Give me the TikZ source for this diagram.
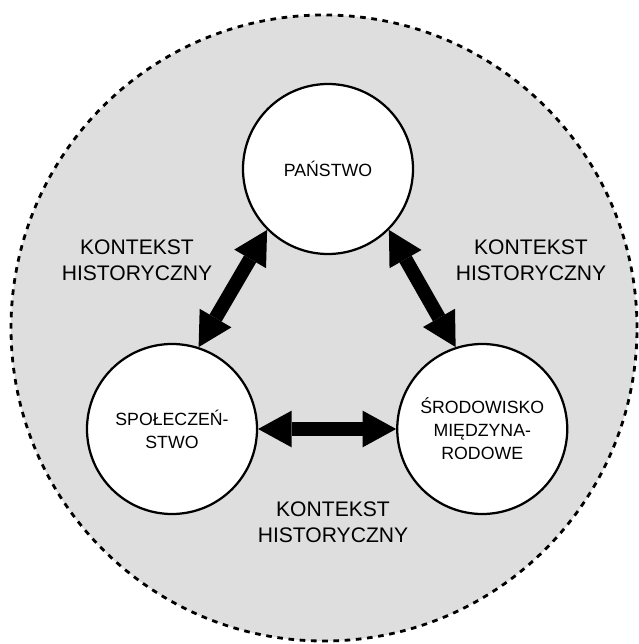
\documentclass[tikz,border=0pt]{standalone}
\usepackage{fontspec}
\setmainfont{Liberation Sans}
\usetikzlibrary{positioning,arrows.meta}
\tikzset{
 krag/.style
  = {circle, draw, fill=white, line width=1.6pt, minimum size=4.25cm, inner sep=0pt,
     align=center, font=\fontsize{12.6}{16.3}\selectfont},
 opis/.style
  = {align=center, font=\fontsize{15}{18.4}\selectfont},
 strz/.style
  = {draw, line width=0.35cm, {Triangle[width=0.92cm, length=0.84cm, line width=0pt]}-{Triangle[width=0.92cm, length=0.84cm, line width=0pt]}},
 tlo/.style
  = {draw, fill=black!13, line width=2pt, dash pattern=on 4pt off 4pt},
}

\begin{document}
\begin{tikzpicture}
\useasboundingbox (0,0) rectangle (15.95,16.1);
\draw [tlo] (8.1,7.9) circle (7.825);
\node (pan) [krag] at (8.2,11.875) {PAŃSTWO};
\node (spo) [krag] at (4.3,5.375) {SPOŁECZEŃ-\\STWO};
\node (sro) [krag, right=3.45cm of spo] {ŚRODOWISKO\\MIĘDZYNA-\\RODOWE};
\node (kh1) [opis] at (3.425,9.6) {KONTEKST\\HISTORYCZNY};
\node (kh2) [opis] at (13.275,9.6) {KONTEKST\\HISTORYCZNY};
\node (kh3) [opis] at (8.325,3.05) {KONTEKST\\HISTORYCZNY};
\draw [strz] (pan.225) -- (spo.72);
\draw [strz] (pan.315) -- (sro.108);
\draw [strz] (spo) -- (sro);
\end{tikzpicture}
\end{document}
